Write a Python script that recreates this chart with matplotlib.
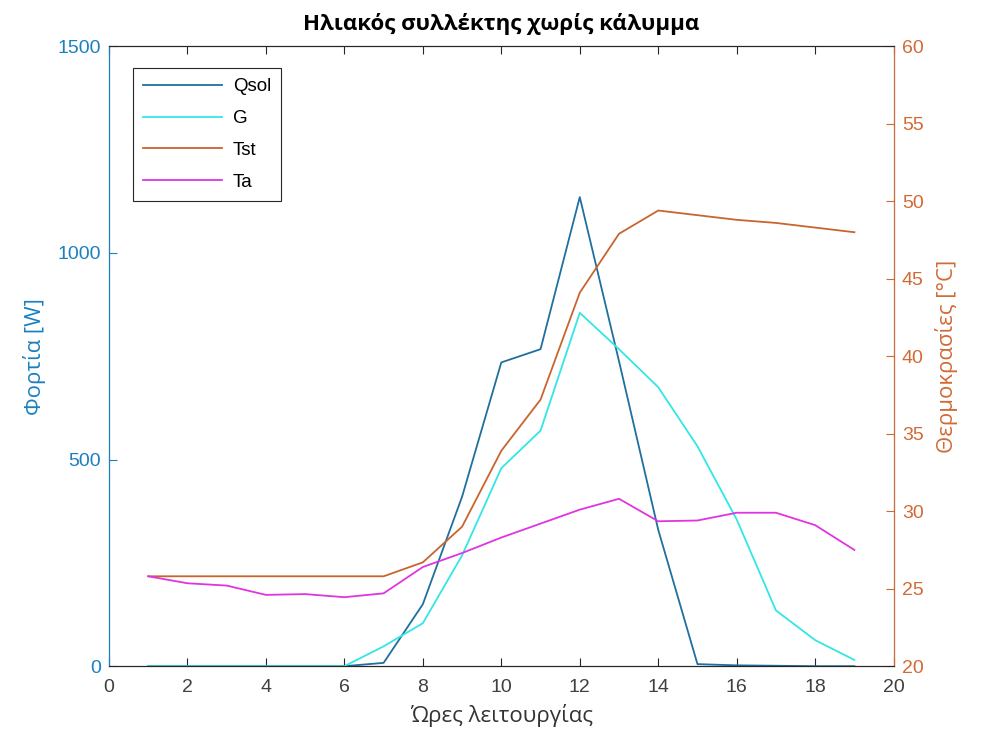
import matplotlib.pyplot as plt

hours = list(range(1, 20))
qsol = [0, 0, 0, 0, 0, 0, 8, 150, 410, 735, 767, 1135, 738, 330, 5, 2, 1, 0, 0]
g = [0, 0, 0, 0, 0, 0, 48, 104, 268, 479, 570, 855, 767, 675, 532, 355, 135, 63, 15]
tst = [25.8, 25.8, 25.8, 25.8, 25.8, 25.8, 25.8, 26.7, 29.0, 33.9, 37.2, 44.1,
       47.9, 49.4, 49.1, 48.8, 48.6, 48.3, 48.0]
ta = [25.8, 25.35, 25.2, 24.6, 24.65, 24.45, 24.7, 26.4, 27.3, 28.3, 29.2, 30.1,
      30.8, 29.35, 29.4, 29.9, 29.9, 29.1, 27.5]

left_color = '#1a80c0'
right_color = '#d26a35'

plt.rcParams['font.family'] = ['Liberation Sans', 'DejaVu Sans']

fig = plt.figure(figsize=(9.82, 7.46), dpi=100)
ax = fig.add_axes([0.111, 0.107, 0.799, 0.831])
ax2 = ax.twinx()

l1, = ax.plot(hours, qsol, color='#1f6f9f', lw=1.3, label='Qsol')
l2, = ax.plot(hours, g, color='#33e6e6', lw=1.3, label='G')
l3, = ax2.plot(hours, tst, color='#c8652f', lw=1.3, label='Tst')
l4, = ax2.plot(hours, ta, color='#e034e0', lw=1.3, label='Ta')

ax.set_xlim(0, 20)
ax.set_ylim(0, 1500)
ax2.set_ylim(20, 60)
ax.set_xticks(range(0, 21, 2))
ax.set_yticks([0, 500, 1000, 1500])
ax2.set_yticks(range(20, 61, 5))

for a in (ax, ax2):
    a.tick_params(direction='in', length=6, labelsize=14)
    for s in a.spines.values():
        s.set_color('#262626')
        s.set_linewidth(0.8)
ax.tick_params(axis='y', colors=left_color, labelcolor=left_color, pad=6)
ax.tick_params(axis='x', colors='#262626', labelcolor='#404040', top=True, pad=9)
ax2.tick_params(axis='y', colors=right_color, labelcolor=right_color, pad=6)
ax2.spines['left'].set_color(left_color)
ax2.spines['right'].set_color(right_color)

ax.set_xlabel('Ώρες λειτουργίας', fontsize=16, color='#333333',
              family=['Open Sans', 'DejaVu Sans'], labelpad=6)
ax.set_ylabel('Φορτία [W]', fontsize=16, color=left_color,
              family=['Open Sans', 'DejaVu Sans'], labelpad=8)
ax2.set_ylabel('Θερμοκρασίες [°C]', fontsize=16, color=right_color,
               family=['Open Sans', 'DejaVu Sans'], rotation=90, labelpad=8)
ax.set_title('Ηλιακός συλλέκτης χωρίς κάλυμμα', fontsize=16, fontweight='bold',
             family=['Open Sans', 'DejaVu Sans'], pad=12)

leg = ax.legend(handles=[l1, l2, l3, l4], loc='upper left',
                bbox_to_anchor=(0.018, 0.98), fontsize=13.5, fancybox=False,
                edgecolor='#262626', framealpha=1, handlelength=4.2,
                handletextpad=0.6, borderpad=0.55, labelspacing=0.78)
leg.get_frame().set_linewidth(0.8)

fig.savefig('out.png', dpi=100)
